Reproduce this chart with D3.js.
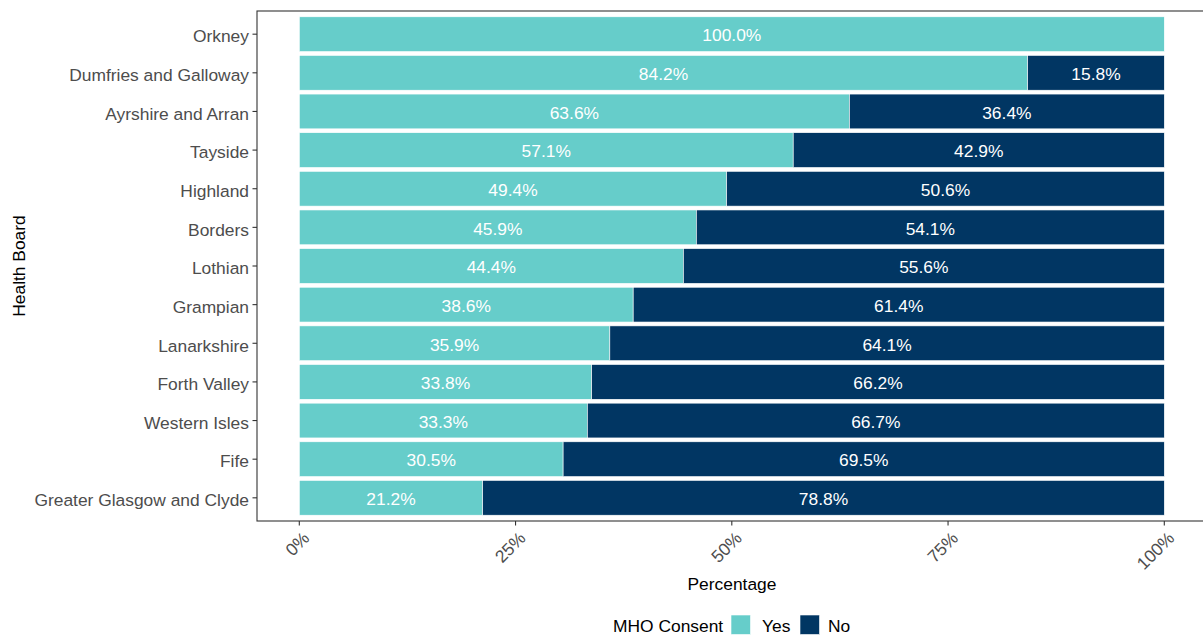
<!DOCTYPE html>
<html><head><meta charset="utf-8">
<script src="https://cdn.jsdelivr.net/npm/d3@7"></script>
<style>body{margin:0;background:#fff;} text{font-family:"Liberation Sans",Arial,sans-serif;}</style>
</head><body>
<svg id="c" width="1203" height="637"></svg>
<script>
const boards = ["Orkney","Dumfries and Galloway","Ayrshire and Arran","Tayside","Highland","Borders","Lothian","Grampian","Lanarkshire","Forth Valley","Western Isles","Fife","Greater Glasgow and Clyde"];
const yesPct = [100.0,84.2,63.6,57.1,49.4,45.9,44.4,38.6,35.9,33.8,33.3,30.5,21.2];
const noPct  = [0.0,15.8,36.4,42.9,50.6,54.1,55.6,61.4,64.1,66.2,66.7,69.5,78.8];
const seriesNames = ["Yes","No"];
const xTicks = [0,25,50,75,100];
const colors = {Yes:"#66cdca", No:"#013663"};
const FS = "17.4px";

const svg = d3.select("#c");
const panel = {l:257, t:11, r:1206, b:521};
const x = d3.scaleLinear().domain([0,100]).range([299.3,1164.3]);
// discrete axis with ggplot-style 0.6 expansion
const step = (panel.b-panel.t)/(boards.length-1+1.2);
const y = d3.scalePoint().domain(boards).range([panel.t+0.6*step, panel.b-0.6*step]);
const bh = step*0.9;

const rows = boards.map((b,i)=>({board:b, Yes:yesPct[i], No:noPct[i]}));
const stack = d3.stack().keys(seriesNames)(rows);

const g = svg.append("g");
stack.forEach(layer=>{
  g.selectAll(null).data(layer.filter(d=>d[1]-d[0]>0)).enter().append("rect")
    .attr("x", d=>x(d[0])).attr("width", d=>x(d[1])-x(d[0]))
    .attr("y", d=>y(d.data.board)-bh/2).attr("height", bh)
    .attr("fill", colors[layer.key]).attr("stroke","#fff").attr("stroke-width",0.6);
});
stack.forEach(layer=>{
  g.selectAll(null).data(layer.filter(d=>d[1]-d[0]>0)).enter().append("text")
    .attr("x", d=>x((d[0]+d[1])/2)).attr("y", d=>y(d.data.board)+1)
    .attr("dy","0.36em").attr("text-anchor","middle").attr("fill","#fff")
    .style("font-size",FS)
    .text(d=>(d[1]-d[0]).toFixed(1)+"%");
});

// panel border
svg.append("rect").attr("x",panel.l).attr("y",panel.t).attr("width",panel.r-panel.l).attr("height",panel.b-panel.t)
  .attr("fill","none").attr("stroke","#333").attr("stroke-width",1.1);

// y axis
boards.forEach(b=>{
  svg.append("line").attr("x1",panel.l-4.5).attr("x2",panel.l).attr("y1",y(b)).attr("y2",y(b)).attr("stroke","#333").attr("stroke-width",1.1);
  svg.append("text").attr("x",panel.l-8).attr("y",y(b)+2).attr("dy","0.36em").attr("text-anchor","end")
    .attr("fill","#4d4d4d").style("font-size",FS).text(b);
});
// x axis
xTicks.forEach(t=>{
  svg.append("line").attr("x1",x(t)).attr("x2",x(t)).attr("y1",panel.b).attr("y2",panel.b+4.5).attr("stroke","#333").attr("stroke-width",1.1);
  svg.append("text").attr("transform",`translate(${x(t)+2},${panel.b+9}) rotate(-45)`)
    .attr("text-anchor","end").attr("dy","0.75em")
    .attr("fill","#4d4d4d").style("font-size",FS).text(t+"%");
});
svg.append("text").attr("x",732).attr("y",590).attr("text-anchor","middle")
  .attr("fill","#000").style("font-size",FS).text("Percentage");
svg.append("text").attr("transform",`translate(25,${(panel.t+panel.b)/2}) rotate(-90)`).attr("text-anchor","middle")
  .attr("fill","#000").style("font-size",FS).text("Health Board");

// legend
const lg = svg.append("g");
lg.append("text").attr("x",613).attr("y",632).attr("fill","#000").style("font-size",FS).text("MHO Consent");
const keys = [{k:"Yes",x:731,tx:762},{k:"No",x:800,tx:828}];
keys.forEach(d=>{
  lg.append("rect").attr("x",d.x).attr("y",615).attr("width",19.5).attr("height",19.5).attr("fill",colors[d.k]).attr("stroke","#fff").attr("stroke-width",0.6);
  lg.append("text").attr("x",d.tx).attr("y",632).attr("fill","#000").style("font-size",FS).text(d.k);
});
</script>
</body></html>
